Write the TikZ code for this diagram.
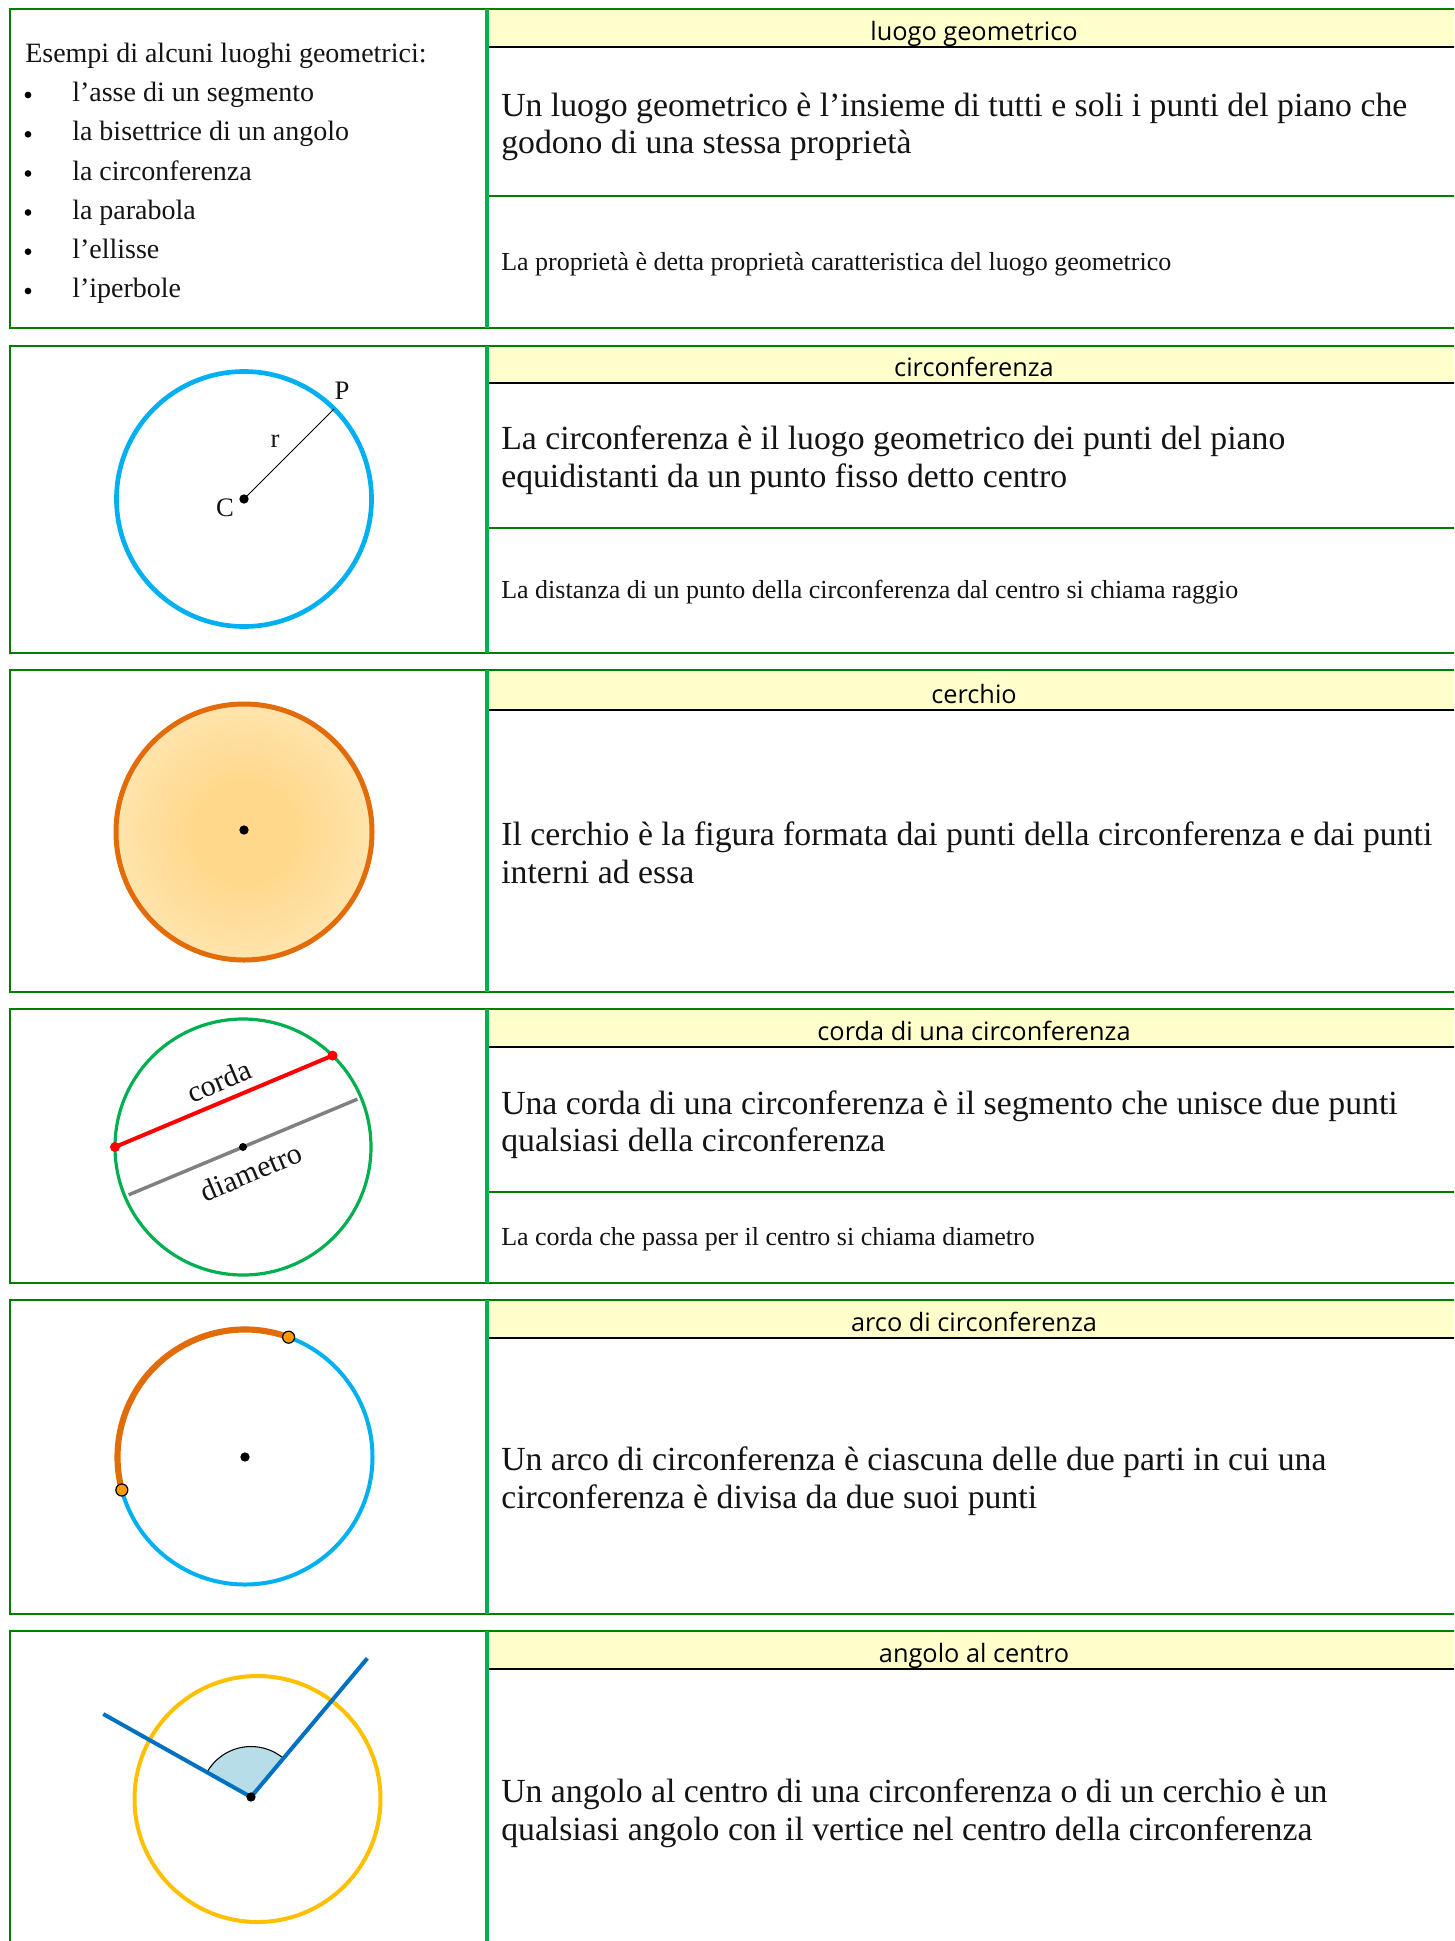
\documentclass[tikz,border=0pt]{standalone}
\usepackage{fontspec}
\setmainfont{Liberation Serif}
\newfontfamily\headfont{Open Sans}
\usetikzlibrary{calc}
\definecolor{bordergreen}{RGB}{0,128,0}
\definecolor{divgreen}{RGB}{0,176,80}
\definecolor{headyellow}{RGB}{255,255,204}
\definecolor{cyanc}{RGB}{0,176,240}
\definecolor{orangec}{RGB}{226,107,10}
\definecolor{greenc}{RGB}{0,176,80}
\definecolor{redc}{RGB}{255,0,0}
\definecolor{grayc}{RGB}{128,128,128}
\definecolor{yellowc}{RGB}{255,192,0}
\definecolor{bluec}{RGB}{0,112,192}
\definecolor{anglefill}{RGB}{183,221,232}
\definecolor{ptorange}{RGB}{255,153,0}
\definecolor{discin}{RGB}{255,216,140}
\definecolor{discout}{RGB}{255,240,204}
\definecolor{txt}{RGB}{20,20,20}
\pgfdeclareradialshading{discshade}{\pgfpoint{0bp}{0bp}}{color(0bp)=(discin); color(10bp)=(discin); color(40bp)=(discout); color(50bp)=(discout)}
\tikzset{
  rowborder/.style={draw=bordergreen, line width=1pt},
  vdiv/.style={draw=divgreen, line width=3pt},
  divline/.style={draw=bordergreen, line width=1pt},
  hdrline/.style={draw=black, line width=0.8pt},
  hdrtext/.style={anchor=base, inner sep=0pt, font=\headfont\fontsize{19}{21}\selectfont, text=black},
  bigtext/.style={anchor=base west, inner sep=0pt, font=\fontsize{25.3}{29}\selectfont, text=txt},
  smalltext/.style={anchor=base west, inner sep=0pt, font=\fontsize{19.5}{22}\selectfont, text=txt},
  listtext/.style={anchor=base west, inner sep=0pt, font=\fontsize{21}{24}\selectfont, text=txt},
  lbl/.style={inner sep=0pt, font=\fontsize{20}{22}\selectfont, text=txt},
  clbl/.style={inner sep=0pt, font=\fontsize{22.5}{24}\selectfont, text=txt},
  bullet/.style={circle, fill=black, inner sep=0pt, minimum size=5pt},
  dot/.style={circle, fill=black, inner sep=0pt, minimum size=7pt},
  reddot/.style={circle, fill=redc, inner sep=0pt, minimum size=7.5pt},
  arcpt/.style={circle, fill=ptorange, draw=black, line width=0.9pt, inner sep=0pt, minimum size=9pt},
}
\begin{document}
\begin{tikzpicture}[x=0.75pt, y=-0.75pt]
\useasboundingbox (0,0) rectangle (1454,1941);
\clip (0,0) rectangle (1454,1941);
\fill[white] (0,0) rectangle (1454,1941);
% ---------- row frames ----------
% row 1
\fill[headyellow] (487,9) rectangle (1470,47);
\draw[hdrline] (487,47) -- (1470,47);
\draw[divline] (487,196) -- (1470,196);
\draw[rowborder] (1470,9) -- (10,9) -- (10,328) -- (1470,328);
\draw[vdiv] (487,9) -- (487,328);
% row 2
\fill[headyellow] (487,346) rectangle (1470,383);
\draw[hdrline] (487,383) -- (1470,383);
\draw[divline] (487,528) -- (1470,528);
\draw[rowborder] (1470,346) -- (10,346) -- (10,653) -- (1470,653);
\draw[vdiv] (487,346) -- (487,653);
% row 3
\fill[headyellow] (487,670) rectangle (1470,710);
\draw[hdrline] (487,710) -- (1470,710);
\draw[rowborder] (1470,670) -- (10,670) -- (10,992) -- (1470,992);
\draw[vdiv] (487,670) -- (487,992);
% row 4
\fill[headyellow] (487,1009) rectangle (1470,1047);
\draw[hdrline] (487,1047) -- (1470,1047);
\draw[divline] (487,1192) -- (1470,1192);
\draw[rowborder] (1470,1009) -- (10,1009) -- (10,1283) -- (1470,1283);
\draw[vdiv] (487,1009) -- (487,1283);
% row 5
\fill[headyellow] (487,1300) rectangle (1470,1338);
\draw[hdrline] (487,1338) -- (1470,1338);
\draw[rowborder] (1470,1300) -- (10,1300) -- (10,1614) -- (1470,1614);
\draw[vdiv] (487,1300) -- (487,1614);
% row 6
\fill[headyellow] (487,1631) rectangle (1470,1669);
\draw[hdrline] (487,1669) -- (1470,1669);
\draw[rowborder] (1470,1631) -- (10,1631) -- (10,1980);
\draw[vdiv] (487,1631) -- (487,1980);
% ---------- headers ----------
\node[hdrtext] (h1) at (974,40.5) {luogo geometrico};
\node[hdrtext] (h2) at (974,376.5) {circonferenza};
\node[hdrtext] (h3) at (974,703.5) {cerchio};
\node[hdrtext] (h4) at (974,1040.5) {corda di una circonferenza};
\node[hdrtext] (h5) at (974,1331.5) {arco di circonferenza};
\node[hdrtext] (h6) at (974,1662.5) {angolo al centro};
% ---------- texts ----------
\node[bigtext] (t1a) at (501,116) {Un luogo geometrico è l’insieme di tutti e soli i punti del piano che};
\node[bigtext] (t1b) at (501,153.5) {godono di una stessa proprietà};
\node[smalltext] (s1) at (501,270.5) {La proprietà è detta proprietà caratteristica del luogo geometrico};
\node[bigtext] (t2a) at (501,449) {La circonferenza è il luogo geometrico dei punti del piano};
\node[bigtext] (t2b) at (501,487) {equidistanti da un punto fisso detto centro};
\node[smalltext] (s2) at (501,598.5) {La distanza di un punto della circonferenza dal centro si chiama raggio};
\node[bigtext] (t3a) at (501,845) {Il cerchio è la figura formata dai punti della circonferenza e dai punti};
\node[bigtext] (t3b) at (501,883) {interni ad essa};
\node[bigtext] (t4a) at (501,1114) {Una corda di una circonferenza è il segmento che unisce due punti};
\node[bigtext] (t4b) at (501,1151) {qualsiasi della circonferenza};
\node[smalltext] (s4) at (501,1245.5) {La corda che passa per il centro si chiama diametro};
\node[bigtext] (t5a) at (501,1470) {Un arco di circonferenza è ciascuna delle due parti in cui una};
\node[bigtext] (t5b) at (501,1508) {circonferenza è divisa da due suoi punti};
\node[bigtext] (t6a) at (501,1802) {Un angolo al centro di una circonferenza o di un cerchio è un};
\node[bigtext] (t6b) at (501,1840) {qualsiasi angolo con il vertice nel centro della circonferenza};
% ---------- list ----------
\node[listtext] (l0) at (25,62.5) {Esempi di alcuni luoghi geometrici:};
\node[listtext] (l1) at (72,101.5) {l’asse di un segmento};
\node[listtext] (l2) at (72,140.8) {la bisettrice di un angolo};
\node[listtext] (l3) at (72,180) {la circonferenza};
\node[listtext] (l4) at (72,219) {la parabola};
\node[listtext] (l5) at (72,258.2) {l’ellisse};
\node[listtext] (l6) at (72,297.5) {l’iperbole};
\node[bullet] (b1) at (28,95) {};
\node[bullet] (b2) at (28,134.3) {};
\node[bullet] (b3) at (28,173.5) {};
\node[bullet] (b4) at (28,212.5) {};
\node[bullet] (b5) at (28,251.7) {};
\node[bullet] (b6) at (28,291) {};
% ---------- row 2: circonferenza ----------
\coordinate (C2) at (244,499);
\draw[cyanc, line width=3.5pt] (C2) circle (127.5);
\coordinate (P2) at ($(C2)+(-45:127.5)$);
\draw[black, line width=0.75pt] (C2) -- (P2);
\node[dot] (c2dot) at (C2) {};
\node[lbl] (lP) at (342,391) {P};
\node[lbl] (lr) at (275,441) {r};
\node[lbl] (lC) at (225,508) {C};
% ---------- row 3: cerchio ----------
\coordinate (C3) at (244,832);
\shade[shading=discshade] (C3) circle (128);
\draw[orangec, line width=3.75pt] (C3) circle (128);
\node[dot] (c3dot) at (244,830) {};
% ---------- row 4: corda ----------
\coordinate (C4) at (243,1147);
\draw[greenc, line width=2.4pt] (C4) circle (128);
\coordinate (A4) at ($(C4)+(-180:128)$);
\coordinate (B4) at ($(C4)+(-45.6:128)$);
\coordinate (D4a) at ($(C4)+(-22.7:124)$);
\coordinate (D4b) at ($(C4)+(-202.7:124)$);
\draw[grayc, line width=2.6pt] (D4b) -- (D4a);
\draw[redc, line width=3pt] (A4) -- (B4);
\node[reddot] (a4dot) at (A4) {};
\node[reddot] (b4dot) at (B4) {};
\node[dot, minimum size=6pt] (c4dot) at (C4) {};
\node[clbl, rotate=22.7] (lcorda) at (219,1081) {corda};
\node[clbl, rotate=22.7] (ldiam) at (251,1172) {diametro};
% ---------- row 5: arco ----------
\coordinate (C5) at (245,1457);
\draw[cyanc, line width=3pt] (C5) circle (127.5);
\draw[orangec, line width=4.6pt] ($(C5)+(-70:127.5)$) arc[start angle=-70, end angle=-195, radius=127.5];
\node[arcpt] (p5a) at ($(C5)+(-70:127.5)$) {};
\node[arcpt] (p5b) at ($(C5)+(-195:127.5)$) {};
\node[dot] (c5dot) at (C5) {};
% ---------- row 6: angolo al centro ----------
\coordinate (C6) at (257.5,1799);
\draw[yellowc, line width=3pt] (C6) circle (123);
\coordinate (V6) at (251,1797);
\coordinate (R6a) at (103.3,1714);
\coordinate (R6b) at (367.3,1658.3);
\fill[anglefill] (V6) -- ($(V6)+(-50.1:50.5)$) arc[start angle=-50.1, end angle=-150.6, radius=50.5] -- cycle;
\draw[black, line width=0.8pt] ($(V6)+(-50.1:50.5)$) arc[start angle=-50.1, end angle=-150.6, radius=50.5];
\draw[bluec, line width=3pt] (R6a) -- (V6) -- (R6b);
\node[dot] (v6dot) at (V6) {};
\end{tikzpicture}
\end{document}
